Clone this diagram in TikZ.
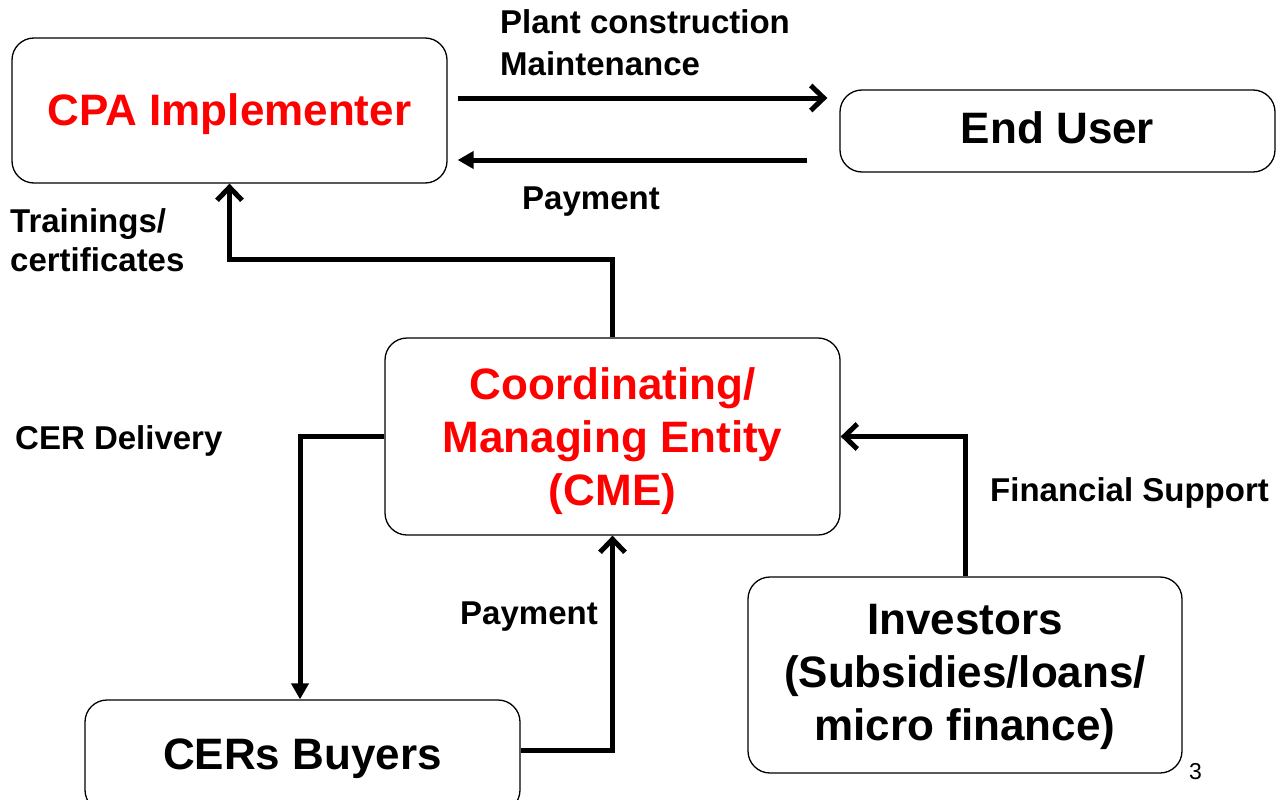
\documentclass[tikz,border=0pt]{standalone}
\usepackage{fontspec}
\setmainfont{Liberation Sans}
\usetikzlibrary{arrows.meta}
\definecolor{cpared}{RGB}{255,0,0}
\begin{document}
\begin{tikzpicture}[x=1pt,y=-1pt,
  box/.style={draw=black, line width=1.3pt, rounded corners=22pt, inner sep=0pt},
  boxtext/.style={inner sep=0pt, align=center, font=\fontsize{44}{53}\selectfont\bfseries},
  lbl/.style={anchor=base west, inner sep=0pt, align=left,
    font=\fontsize{33}{40}\selectfont\bfseries},
  conn/.style={line width=5pt},
  barb/.style={-{Straight Barb[length=13pt,width=25pt,line width=5pt]}},
  tri/.style={-{Triangle[length=16pt,width=17pt]}}]
\useasboundingbox (0,0) rectangle (1282,800);
\node[box, minimum width=435pt, minimum height=145pt] (cpa) at (229.5,110.5) {};
\node[box, minimum width=435pt, minimum height=82pt] (eu) at (1057.5,131) {};
\node[box, minimum width=455pt, minimum height=197pt] (cme) at (612.5,436.5) {};
\node[box, minimum width=435pt, minimum height=112pt] (buyers) at (302.5,756) {};
\node[box, minimum width=434pt, minimum height=196pt] (inv) at (965,675) {};

\node[boxtext, text=cpared] (cpat) at ([yshift=-4pt]cpa.center) {CPA Implementer};
\node[boxtext] (eut) at ([yshift=3pt]eu.center) {End User};
\node[boxtext, text=cpared] (cmet) at ([yshift=-5pt]cme.center) {Coordinating/\\Managing Entity\\(CME)};
\node[boxtext] (buyerst) at ([yshift=-3pt]buyers.center) {CERs Buyers};
\node[boxtext] (invt) at ([yshift=-2pt]inv.center) {Investors\\(Subsidies/loans/\\micro finance)};

\draw[conn, barb] ([xshift=10pt,yshift=12.5pt]cpa.east) -- ([xshift=-12pt,yshift=33pt]eu.west);
\draw[conn, tri] ([xshift=-32pt,yshift=-29pt]eu.west) -- ([xshift=10pt,yshift=-49.5pt]cpa.east);
\draw[conn, barb] (cme.north) -- ++(0,-78) -| (cpa.south);
\draw[conn, tri] (cme.west) -| ([xshift=-2.5pt]buyers.north);
\draw[conn, barb] ([yshift=6pt]buyers.east) -| (cme.south);
\draw[conn, barb] (inv.north) |- (cme.east);

\node[lbl] (l1) at (500,34) {Plant construction};
\node[lbl] (l2) at (500,75) {Maintenance};
\node[lbl] (l3) at (522,209) {Payment};
\node[lbl] (l4) at (10,232) {Trainings/};
\node[lbl] (l5) at (10,271) {certificates};
\node[lbl] (l6) at (15,449) {CER Delivery};
\node[lbl] (l7) at (990,501) {Financial Support};
\node[lbl] (l8) at (460,624) {Payment};
\node[anchor=base west, inner sep=0pt, font=\fontsize{23}{27}\selectfont] (pg) at (1189,779) {3};
\end{tikzpicture}
\end{document}
